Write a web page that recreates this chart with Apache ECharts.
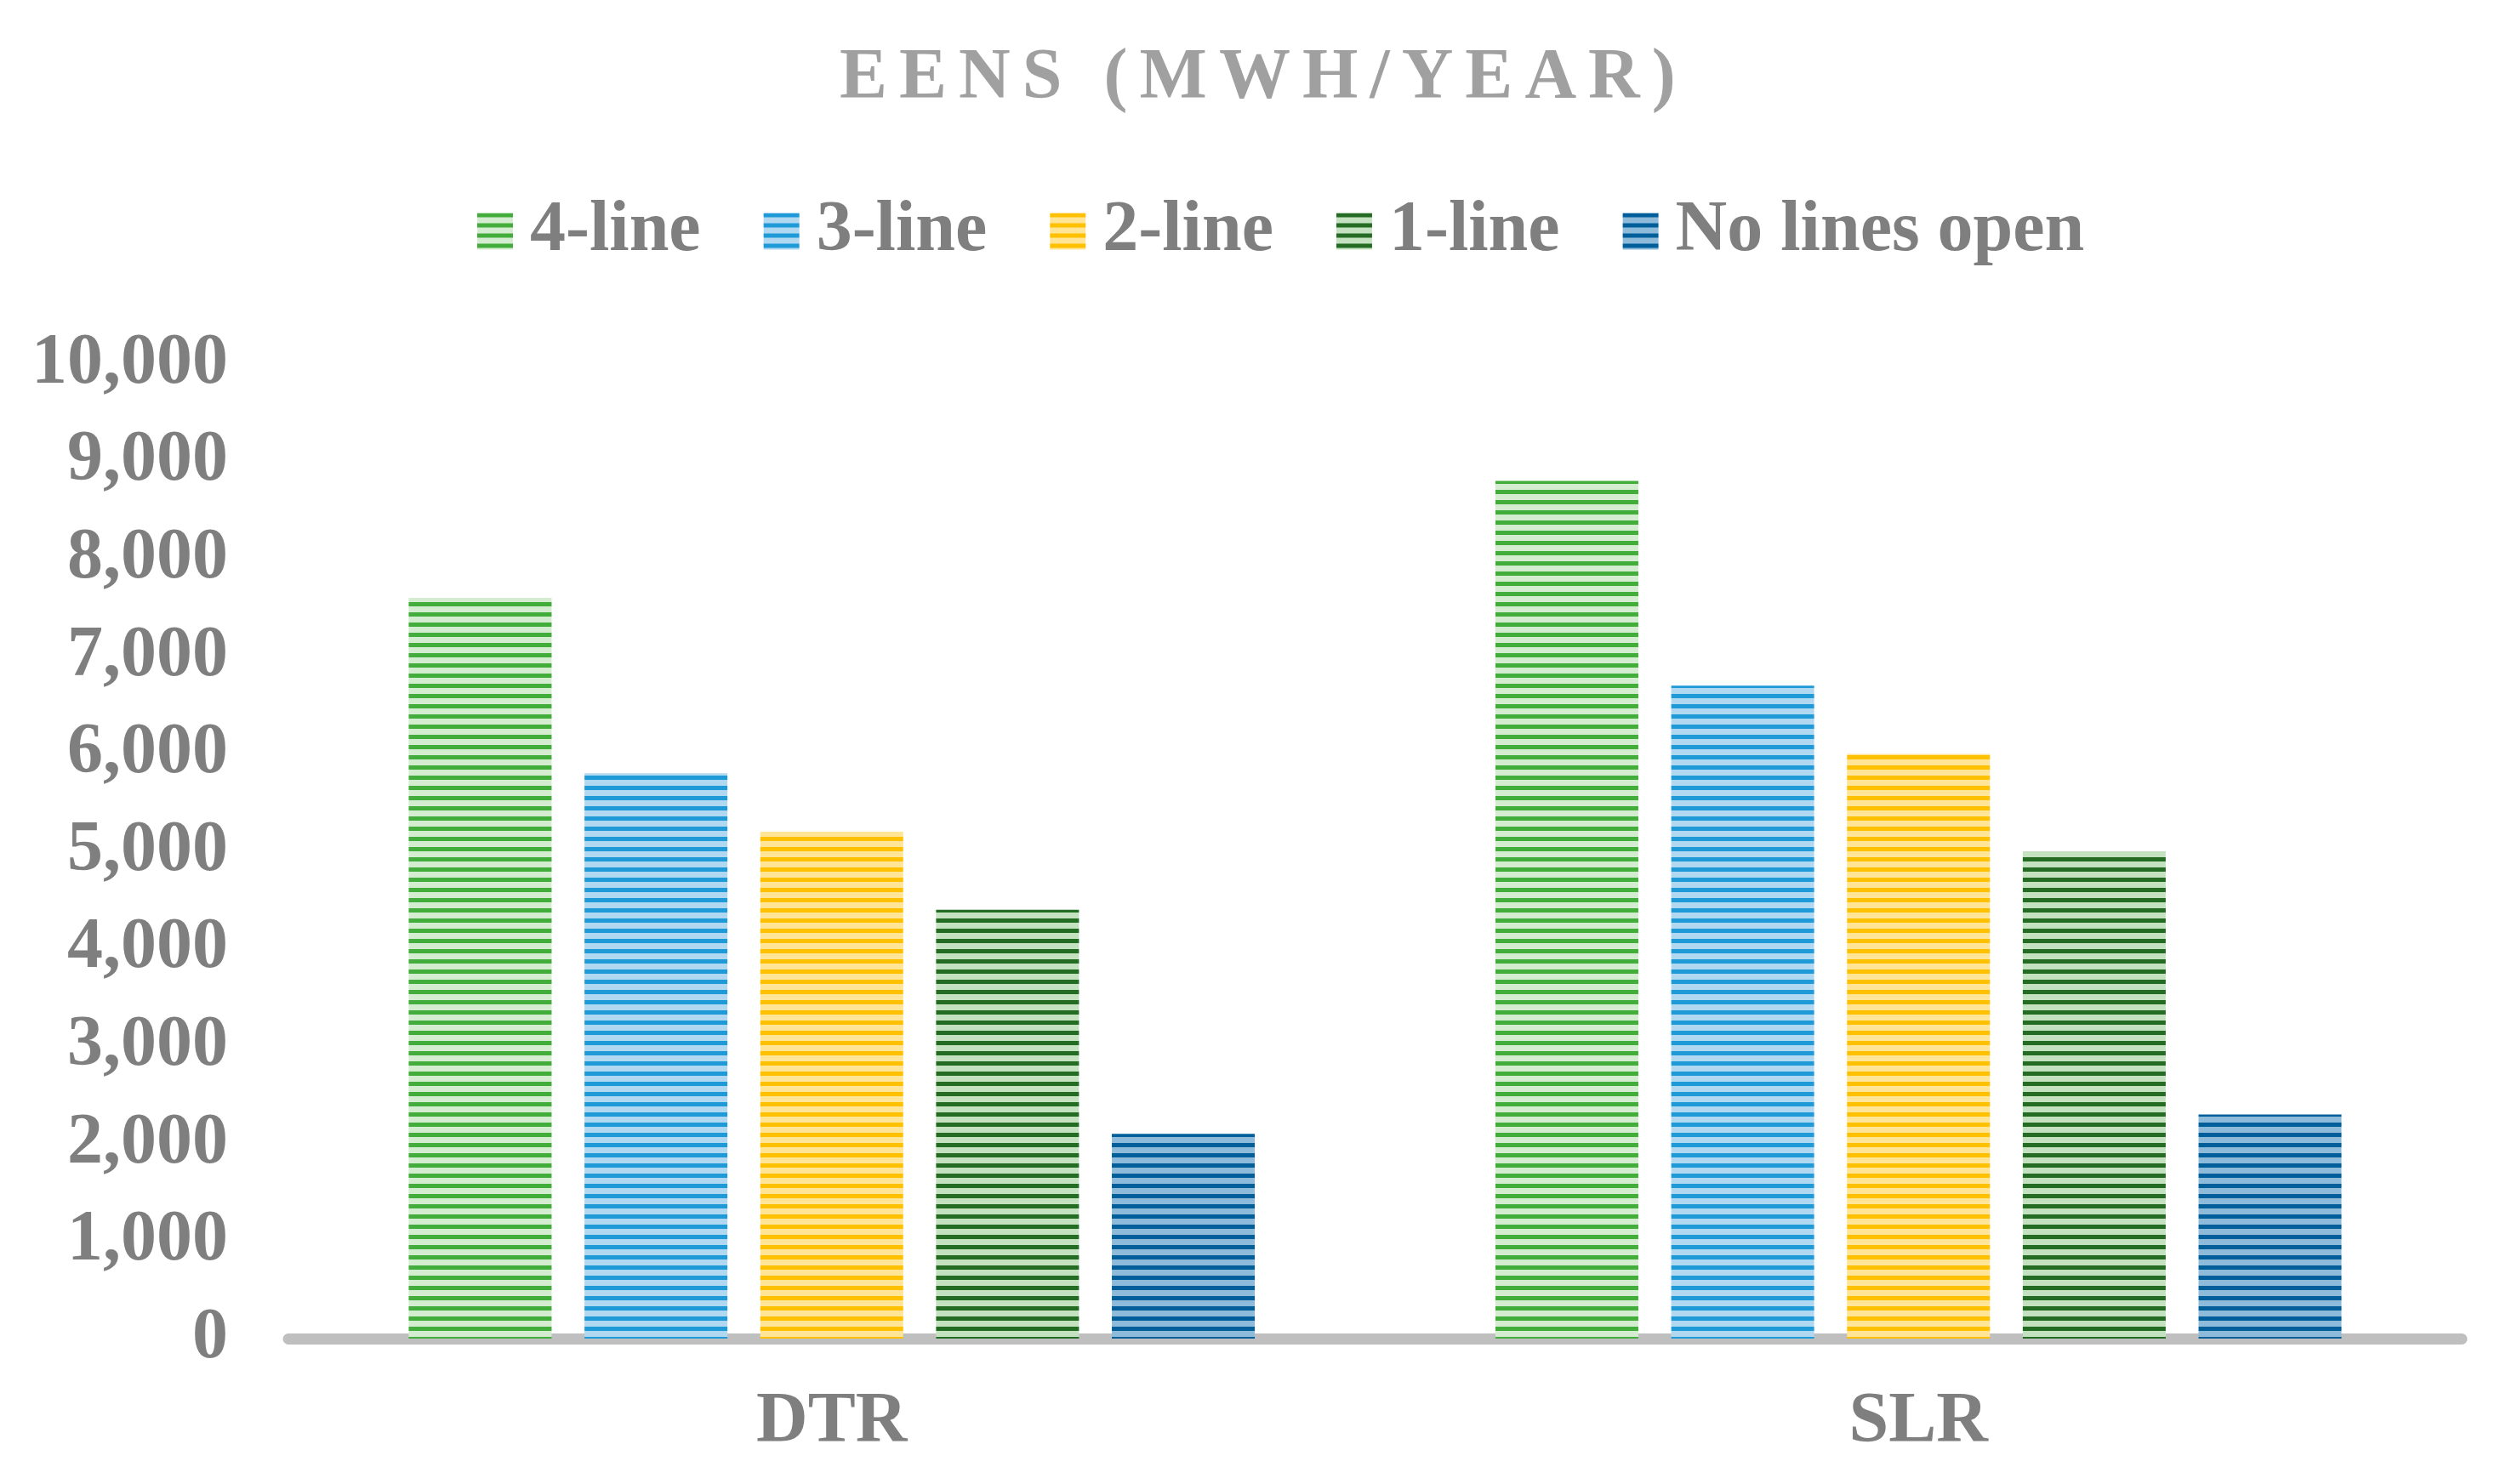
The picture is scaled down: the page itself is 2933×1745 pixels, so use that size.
<!DOCTYPE html>
<html>
<head>
<meta charset="utf-8">
<script src="https://cdn.jsdelivr.net/npm/echarts@6/dist/echarts.min.js"></script>
<style>
html,body{margin:0;padding:0;background:#fff;}
#chart{width:2933px;height:1745px;}
</style>
</head>
<body>
<div id="chart"></div>
<script>
const categories = ['DTR', 'SLR'];
const seriesNames = ['4-line', '3-line', '2-line', '1-line', 'No lines open'];
const line4 = [7600, 8800];
const line3 = [5800, 6700];
const line2 = [5200, 6000];
const line1 = [4400, 5000];
const noLines = [2100, 2300];
const yTicks = [0, 1000, 2000, 3000, 4000, 5000, 6000, 7000, 8000, 9000, 10000];
const titleText = 'EENS (MWH/YEAR)';

const darkColors = ['#43ad3b', '#1e9ad8', '#ffc000', '#246b23', '#005f9b'];
const lightColors = ['#d4edd0', '#b0d9f1', '#ffe595', '#c4e2c0', '#8fbbdb'];

function stripe(dark, light) {
  const c = document.createElement('canvas');
  c.width = 12; c.height = 12;
  const ctx = c.getContext('2d');
  ctx.fillStyle = light;
  ctx.fillRect(0, 0, 12, 12);
  ctx.fillStyle = dark;
  ctx.fillRect(0, 0, 12, 5);
  return { image: c, repeat: 'repeat' };
}

const seriesData = [line4, line3, line2, line1, noLines];
const font = '"Liberation Serif", "Times New Roman", serif';
const spaced = titleText.split('').join('\u200A\u200A');

const chart = echarts.init(document.getElementById('chart'));
chart.setOption({
  animation: false,
  backgroundColor: '#ffffff',
  title: {
    text: spaced,
    left: 982,
    top: 46,
    textStyle: { fontFamily: font, fontSize: 84, fontWeight: 'bold', color: '#a0a0a0' }
  },
  legend: {
    data: seriesNames,
    left: 556,
    top: 225,
    itemWidth: 42,
    itemHeight: 43,
    itemGap: 74,
    icon: 'rect',
    textStyle: { fontFamily: font, fontSize: 84, fontWeight: 'bold', color: '#7f7f7f', padding: [0, 0, 0, 15] }
  },
  grid: { left: 339, right: 39, top: 428, bottom: 171, containLabel: false },
  xAxis: {
    type: 'category',
    data: categories,
    axisLine: { show: true, lineStyle: { color: '#bfbfbf', width: 13 } },
    axisTick: { show: false },
    axisLabel: { fontFamily: font, fontSize: 84, fontWeight: 'bold', color: '#7f7f7f', margin: 57 }
  },
  yAxis: {
    type: 'value',
    min: yTicks[0],
    max: yTicks[yTicks.length - 1],
    interval: yTicks[1] - yTicks[0],
    splitLine: { show: false },
    axisLine: { show: false },
    axisTick: { show: false },
    axisLabel: {
      fontFamily: font, fontSize: 84, fontWeight: 'bold', color: '#7f7f7f', margin: 71,
      formatter: v => v.toLocaleString('en-US')
    }
  },
  series: seriesNames.map((name, i) => ({
    name: name,
    type: 'bar',
    data: seriesData[i],
    barWidth: 168,
    barGap: '23%',
    itemStyle: { color: stripe(darkColors[i], lightColors[i]) }
  }))
});
</script>
</body>
</html>
